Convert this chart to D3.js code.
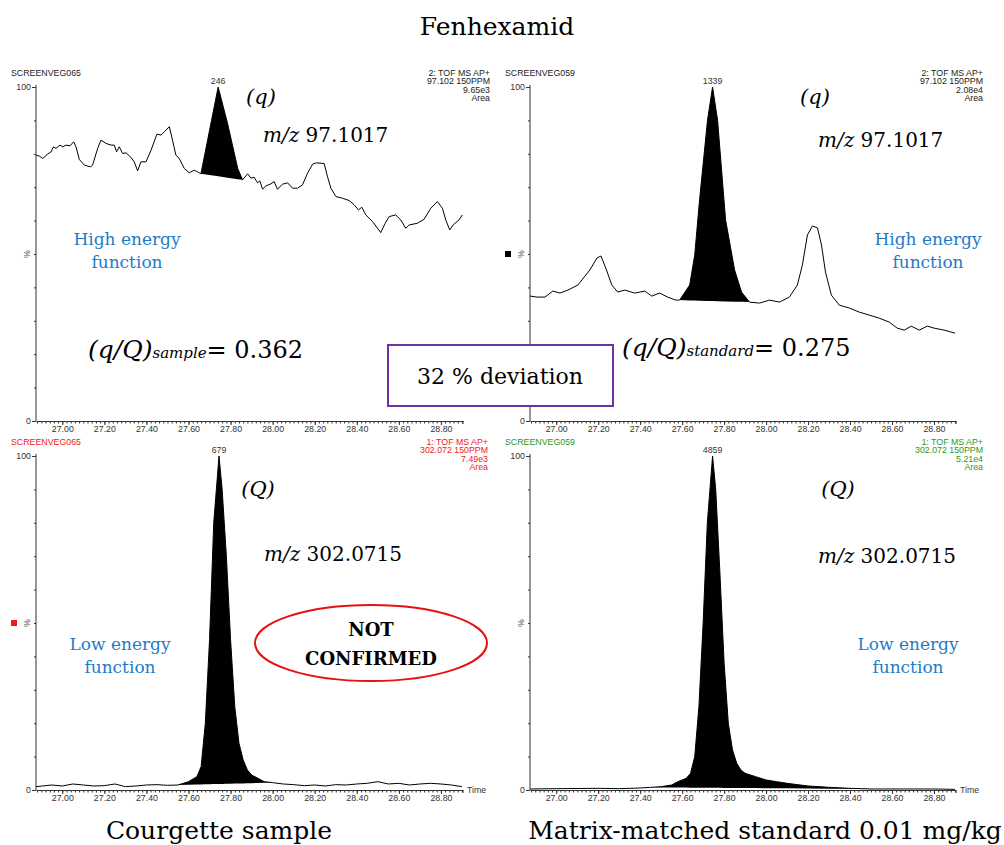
<!DOCTYPE html>
<html>
<head>
<meta charset="utf-8">
<script src="https://cdn.jsdelivr.net/npm/d3@7"></script>
<style>
  body { margin: 0; background: #fff; }
  svg { display: block; }
  .serif { font-family: "DejaVu Serif", serif; }
  .small { font-family: "Liberation Sans", Arial, sans-serif; font-size: 8.8px; }
</style>
</head>
<body>
<svg id="chart" width="1004" height="845"></svg>
<script>
// time axis (min) shared by the four chromatograms
const timeDomain = [26.875, 28.905];
const xTickLabels = ["27.00", "27.20", "27.40", "27.60", "27.80", "28.00", "28.20", "28.40", "28.60", "28.80"];

// top left: sample, m/z 97.1017 (q)
const tlTime = [26.875, 26.891, 26.907, 26.930, 26.947, 26.958, 26.970, 26.989, 27.002, 27.018, 27.037, 27.054,
  27.065, 27.081, 27.105, 27.133, 27.144, 27.168, 27.184, 27.208, 27.232, 27.247, 27.258, 27.271, 27.287,
  27.303, 27.327, 27.342, 27.358, 27.374, 27.398, 27.422, 27.450, 27.469, 27.485, 27.509, 27.524, 27.540,
  27.556, 27.580, 27.604, 27.627, 27.643, 27.659, 27.741, 27.786, 27.834, 27.857, 27.881, 27.897, 27.912,
  27.928, 27.939, 27.952, 27.968, 27.992, 28.007, 28.023, 28.047, 28.071, 28.095, 28.118, 28.142, 28.166,
  28.190, 28.208, 28.245, 28.261, 28.277, 28.301, 28.332, 28.364, 28.388, 28.408, 28.424, 28.443, 28.475,
  28.514, 28.535, 28.554, 28.585, 28.609, 28.633, 28.649, 28.688, 28.720, 28.752, 28.783, 28.807, 28.823,
  28.842, 28.858, 28.886, 28.902];
const tlInt = [79.6, 79.3, 78.6, 79.9, 80.6, 82.1, 81.6, 82.6, 82.1, 82.6, 82.4, 83.6,
  82.1, 78.3, 76.6, 76.1, 76.6, 81.6, 84.1, 83.1, 82.6, 82.6, 80.6, 82.1, 80.1,
  80.3, 78.9, 77.6, 74.9, 77.6, 77.6, 81.1, 85.9, 85.6, 86.6, 88.1, 84.1, 79.6,
  78.6, 75.6, 74.3, 75.1, 74.6, 74.0, 100, 89.0, 75.6, 72.2, 74.0, 72.7, 73.0,
  71.3, 71.9, 69.4, 70.4, 71.0, 71.7, 69.4, 70.9, 71.3, 69.7, 69.7, 70.7, 74.2,
  76.9, 77.3, 77.1, 73.1, 69.7, 67.2, 66.7, 66.0, 64.7, 63.2, 64.0, 61.7, 59.7,
  56.4, 59.2, 61.2, 61.7, 60.2, 57.7, 58.7, 59.2, 60.4, 63.7, 65.7, 63.7, 60.2,
  57.2, 58.7, 60.2, 61.7];

// top right: standard, m/z 97.1017 (q)
const trTime = [26.875, 26.908, 26.946, 26.984, 27.018, 27.056, 27.103, 27.160, 27.194, 27.213, 27.236, 27.265,
  27.293, 27.327, 27.374, 27.422, 27.455, 27.493, 27.531, 27.569, 27.588, 27.636, 27.660, 27.683, 27.721,
  27.745, 27.769, 27.807, 27.850, 27.883, 27.921, 27.969, 28.016, 28.064, 28.111, 28.149, 28.173, 28.197,
  28.221, 28.245, 28.264, 28.283, 28.311, 28.349, 28.397, 28.444, 28.492, 28.539, 28.587, 28.625, 28.658,
  28.692, 28.730, 28.768, 28.801, 28.849, 28.901];
const trInt = [37.4, 37.1, 37.1, 38.9, 38.3, 39.2, 40.7, 45.2, 48.8, 49.4, 45.8, 40.7,
  38.6, 39.2, 38.3, 38.9, 37.4, 38.3, 37.1, 36.2, 36.2, 40.7, 49.7, 66.2, 90.1,
  100, 90.0, 60.2, 45.2, 38.6, 35.6, 35.3, 36.2, 35.6, 37.1, 40.7, 46.7, 55.7,
  58.4, 57.8, 52.7, 44.6, 37.7, 34.7, 33.8, 32.6, 31.7, 30.8, 29.6, 27.8, 27.2,
  28.4, 27.2, 28.4, 27.8, 27.2, 26.3];

// bottom left: sample, m/z 302.0715 (Q)
const blTime = [26.875, 26.95, 27.00, 27.05, 27.10, 27.15, 27.20, 27.25, 27.30, 27.35, 27.40, 27.45, 27.50,
  27.55, 27.60, 27.64, 27.66, 27.68, 27.70, 27.72, 27.745, 27.76, 27.78, 27.80, 27.82, 27.84, 27.86, 27.88,
  27.90, 27.93, 27.96, 28.00, 28.05, 28.10, 28.15, 28.20, 28.25, 28.30, 28.35, 28.40, 28.45, 28.50, 28.55,
  28.60, 28.65, 28.70, 28.75, 28.80, 28.85, 28.90];
const blInt = [1.0, 1.5, 1.2, 1.8, 1.5, 1.2, 1.3, 1.8, 1.0, 1.2, 1.5, 1.6, 1.4,
  1.5, 2.5, 4.0, 7.0, 20, 45, 80, 100, 90, 70, 45, 25, 14, 9, 6,
  4.5, 3.5, 2.5, 2.2, 1.8, 1.6, 1.3, 1.5, 1.2, 1.6, 1.5, 1.8, 2.0, 2.5, 1.8,
  2.0, 1.5, 1.8, 2.0, 1.8, 1.5, 1.0];

// bottom right: standard, m/z 302.0715 (Q)
const brTime = [26.875, 27.00, 27.20, 27.30, 27.40, 27.45, 27.50, 27.55, 27.58, 27.60, 27.62, 27.64, 27.66,
  27.68, 27.70, 27.72, 27.745, 27.76, 27.78, 27.80, 27.82, 27.84, 27.86, 27.88, 27.90, 27.95, 28.00, 28.05,
  28.10, 28.20, 28.30, 28.40, 28.50, 28.60, 28.70, 28.80, 28.90];
const brInt = [0.3, 0.4, 0.5, 0.4, 0.6, 0.8, 1.0, 1.5, 2.5, 3.0, 3.5, 5, 10,
  25, 50, 80, 100, 90, 65, 38, 20, 12, 8, 6, 5, 4, 3, 2.5,
  2.0, 1.2, 0.8, 0.5, 0.3, 0.3, 0.3, 0.3, 0.2];

// integrated peak windows [start, end] and apex labels
const peakWindows = [[27.659, 27.857], [27.588, 27.921], [27.55, 28.00], [27.45, 28.50]];
const apexLabels = ["246", "1339", "679", "4859"];
const sampleNames = ["SCREENVEG065", "SCREENVEG059", "SCREENVEG065", "SCREENVEG059"];
const functionInfo = [
  ["2: TOF MS AP+", "97.102 150PPM", "9.65e3", "Area"],
  ["2: TOF MS AP+", "97.102 150PPM", "2.08e4", "Area"],
  ["1: TOF MS AP+", "302.072 150PPM", "7.49e3", "Area"],
  ["1: TOF MS AP+", "302.072 150PPM", "5.21e4", "Area"]
];

const svg = d3.select("#chart");

const panels = [
  {time: tlTime, inten: tlInt, x0: 36, x1: 463, top: 87, bottom: 421, color: "#222", infoX: 490, square: null, timeLabel: false},
  {time: trTime, inten: trInt, x0: 530, x1: 956, top: 87, bottom: 421, color: "#222", infoX: 983, square: "#000", timeLabel: false},
  {time: blTime, inten: blInt, x0: 36, x1: 463, top: 456, bottom: 790, color: "#f01818", infoX: 488, square: "#f01818", timeLabel: true},
  {time: brTime, inten: brInt, x0: 530, x1: 956, top: 456, bottom: 790, color: "#1f9a2a", infoX: 983, square: null, timeLabel: true}
];

function drawPanel(p, i) {
  const data = p.time.map((t, k) => ({t: t, v: p.inten[k]}));
  const x = d3.scaleLinear().domain(timeDomain).range([p.x0, p.x1]);
  const y = d3.scaleLinear().domain([0, 100]).range([p.bottom, p.top]);
  const g = svg.append("g");

  // peak area, baseline drawn straight between the window ends
  const [t0, t1] = peakWindows[i];
  const v0 = data.find(d => d.t === t0).v;
  const v1 = data.find(d => d.t === t1).v;
  const base = d3.scaleLinear().domain([t0, t1]).range([v0, v1]);
  const area = d3.area()
    .x(d => x(d.t))
    .y0(d => y(base(d.t)))
    .y1(d => y(d.v));
  g.append("path")
    .datum(data.filter(d => d.t >= t0 && d.t <= t1))
    .attr("fill", "#000")
    .attr("d", area);

  const line = d3.line().x(d => x(d.t)).y(d => y(d.v));
  g.append("path")
    .datum(data)
    .attr("fill", "none")
    .attr("stroke", "#000")
    .attr("stroke-width", 1)
    .attr("d", line);

  // x axis: minor ticks then labelled ticks
  g.append("g")
    .attr("transform", `translate(0,${p.bottom})`)
    .call(d3.axisBottom(x).tickValues(d3.range(26.88, 28.905, 0.02)).tickSize(2.5).tickSizeOuter(0).tickFormat(""))
    .call(a => a.select(".domain").remove())
    .selectAll("line").attr("stroke", "#333");
  g.append("g")
    .attr("class", "small")
    .attr("transform", `translate(0,${p.bottom})`)
    .call(d3.axisBottom(x).tickValues(xTickLabels.map(Number)).tickSize(4).tickSizeOuter(0)
      .tickFormat((d, k) => xTickLabels[k]))
    .call(a => a.attr("font-size", null).attr("font-family", null))
    .call(a => a.select(".domain").attr("stroke", "#333"))
    .call(a => a.selectAll("line").attr("stroke", "#333"))
    .selectAll("text").attr("fill", "#333").attr("dy", "0.5em");
  g.append("line")
    .attr("x1", p.x1).attr("x2", p.x1)
    .attr("y1", p.bottom).attr("y2", p.bottom + 3)
    .attr("stroke", "#333");

  // y axis
  g.append("g")
    .attr("transform", `translate(${p.x0},0)`)
    .call(d3.axisLeft(y).tickValues(d3.range(10, 100, 10)).tickSize(2).tickSizeOuter(0).tickFormat(""))
    .call(a => a.select(".domain").remove())
    .selectAll("line").attr("stroke", "#333");
  g.append("g")
    .attr("class", "small")
    .attr("transform", `translate(${p.x0},0)`)
    .call(d3.axisLeft(y).tickValues([0, 100]).tickSize(4).tickSizeOuter(0).tickPadding(1))
    .call(a => a.attr("font-size", null).attr("font-family", null))
    .call(a => a.select(".domain").attr("stroke", "#333").attr("d", `M0,${p.top - 2}V${p.bottom}`))
    .call(a => a.selectAll("line").attr("stroke", "#333"))
    .selectAll("text").attr("fill", "#333");

  g.append("text")
    .attr("class", "small")
    .attr("transform", `translate(${p.x0 - 6},${y(50)}) rotate(-90)`)
    .attr("text-anchor", "middle")
    .attr("fill", "#555")
    .text("%");

  if (p.square) {
    g.append("rect")
      .attr("x", p.x0 - 25).attr("y", y(50) - 3)
      .attr("width", 6).attr("height", 6)
      .attr("fill", p.square);
  }

  // apex label
  const apex = data.reduce((a, b) => (b.v > a.v ? b : a));
  g.append("text")
    .attr("class", "small")
    .attr("x", x(apex.t)).attr("y", y(apex.v) - 3)
    .attr("text-anchor", "middle")
    .attr("fill", "#333")
    .text(apexLabels[i]);

  // headers
  g.append("text")
    .attr("class", "small")
    .attr("x", p.x0 - 25).attr("y", p.top - 11)
    .attr("fill", p.color)
    .text(sampleNames[i]);
  g.append("g")
    .selectAll("text")
    .data(functionInfo[i])
    .join("text")
      .attr("class", "small")
      .attr("x", p.infoX)
      .attr("y", (d, k) => p.top - 11 + k * 8.3)
      .attr("text-anchor", "end")
      .attr("fill", p.color)
      .text(d => d);

  if (p.timeLabel) {
    g.append("text")
      .attr("class", "small")
      .attr("x", p.x1 + 4).attr("y", p.bottom + 3)
      .attr("fill", "#333")
      .text("Time");
  }
}

panels.forEach(drawPanel);

// annotations
function serifText(x, y, size, txt, opts = {}) {
  return svg.append("text")
    .attr("class", "serif")
    .attr("x", x).attr("y", y)
    .attr("font-size", size)
    .attr("text-anchor", opts.anchor || "start")
    .attr("font-style", opts.italic ? "italic" : null)
    .attr("font-weight", opts.bold ? "bold" : null)
    .attr("fill", opts.fill || "#000")
    .text(txt);
}

serifText(497, 35, 25, "Fenhexamid", {anchor: "middle"});
serifText(219, 839, 25, "Courgette sample", {anchor: "middle"});
serifText(765, 839, 25, "Matrix-matched standard 0.01 mg/kg", {anchor: "middle"});

const blue = "#1f7bc8";
[[127, 245], [928, 245]].forEach(([cx, cy]) => {
  serifText(cx, cy, 17, "High energy", {anchor: "middle", fill: blue});
  serifText(cx, cy + 23, 17, "function", {anchor: "middle", fill: blue});
});
[[120, 650], [908, 650]].forEach(([cx, cy]) => {
  serifText(cx, cy, 17, "Low energy", {anchor: "middle", fill: blue});
  serifText(cx, cy + 23, 17, "function", {anchor: "middle", fill: blue});
});

serifText(261, 104, 21, "(q)", {anchor: "middle", italic: true});
serifText(815, 104, 21, "(q)", {anchor: "middle", italic: true});
serifText(258, 496, 21, "(Q)", {anchor: "middle", italic: true});
serifText(838, 496, 21, "(Q)", {anchor: "middle", italic: true});

function mzLabel(x, y, value) {
  const t = svg.append("text").attr("class", "serif").attr("x", x).attr("y", y).attr("font-size", 20);
  t.append("tspan").attr("font-style", "italic").text("m/z");
  t.append("tspan").text("\u00a0" + value);
}
mzLabel(263, 142, "97.1017");
mzLabel(818, 147, "97.1017");
mzLabel(264, 561, "302.0715");
mzLabel(818, 563, "302.0715");

function ratioLabel(x, y, sub, value) {
  const t = svg.append("text").attr("class", "serif").attr("x", x).attr("y", y);
  t.append("tspan").attr("font-style", "italic").attr("font-size", 25).text("(q/Q)");
  t.append("tspan").attr("font-style", "italic").attr("font-size", 15).text(sub);
  t.append("tspan").attr("font-size", 24).text("= " + value);
}
ratioLabel(88, 358, "sample", "0.362");
ratioLabel(622, 356, "standard", "0.275");

svg.append("rect")
  .attr("x", 388).attr("y", 345).attr("width", 225).attr("height", 61)
  .attr("fill", "#fff").attr("stroke", "#7030a0").attr("stroke-width", 2);
serifText(500, 384, 22, "32 % deviation", {anchor: "middle"});

svg.append("ellipse")
  .attr("cx", 371).attr("cy", 643).attr("rx", 116).attr("ry", 38)
  .attr("fill", "none").attr("stroke", "#e81010").attr("stroke-width", 2);
serifText(371, 636, 18, "NOT", {anchor: "middle", bold: true});
serifText(371, 665, 18, "CONFIRMED", {anchor: "middle", bold: true});
</script>
</body>
</html>
